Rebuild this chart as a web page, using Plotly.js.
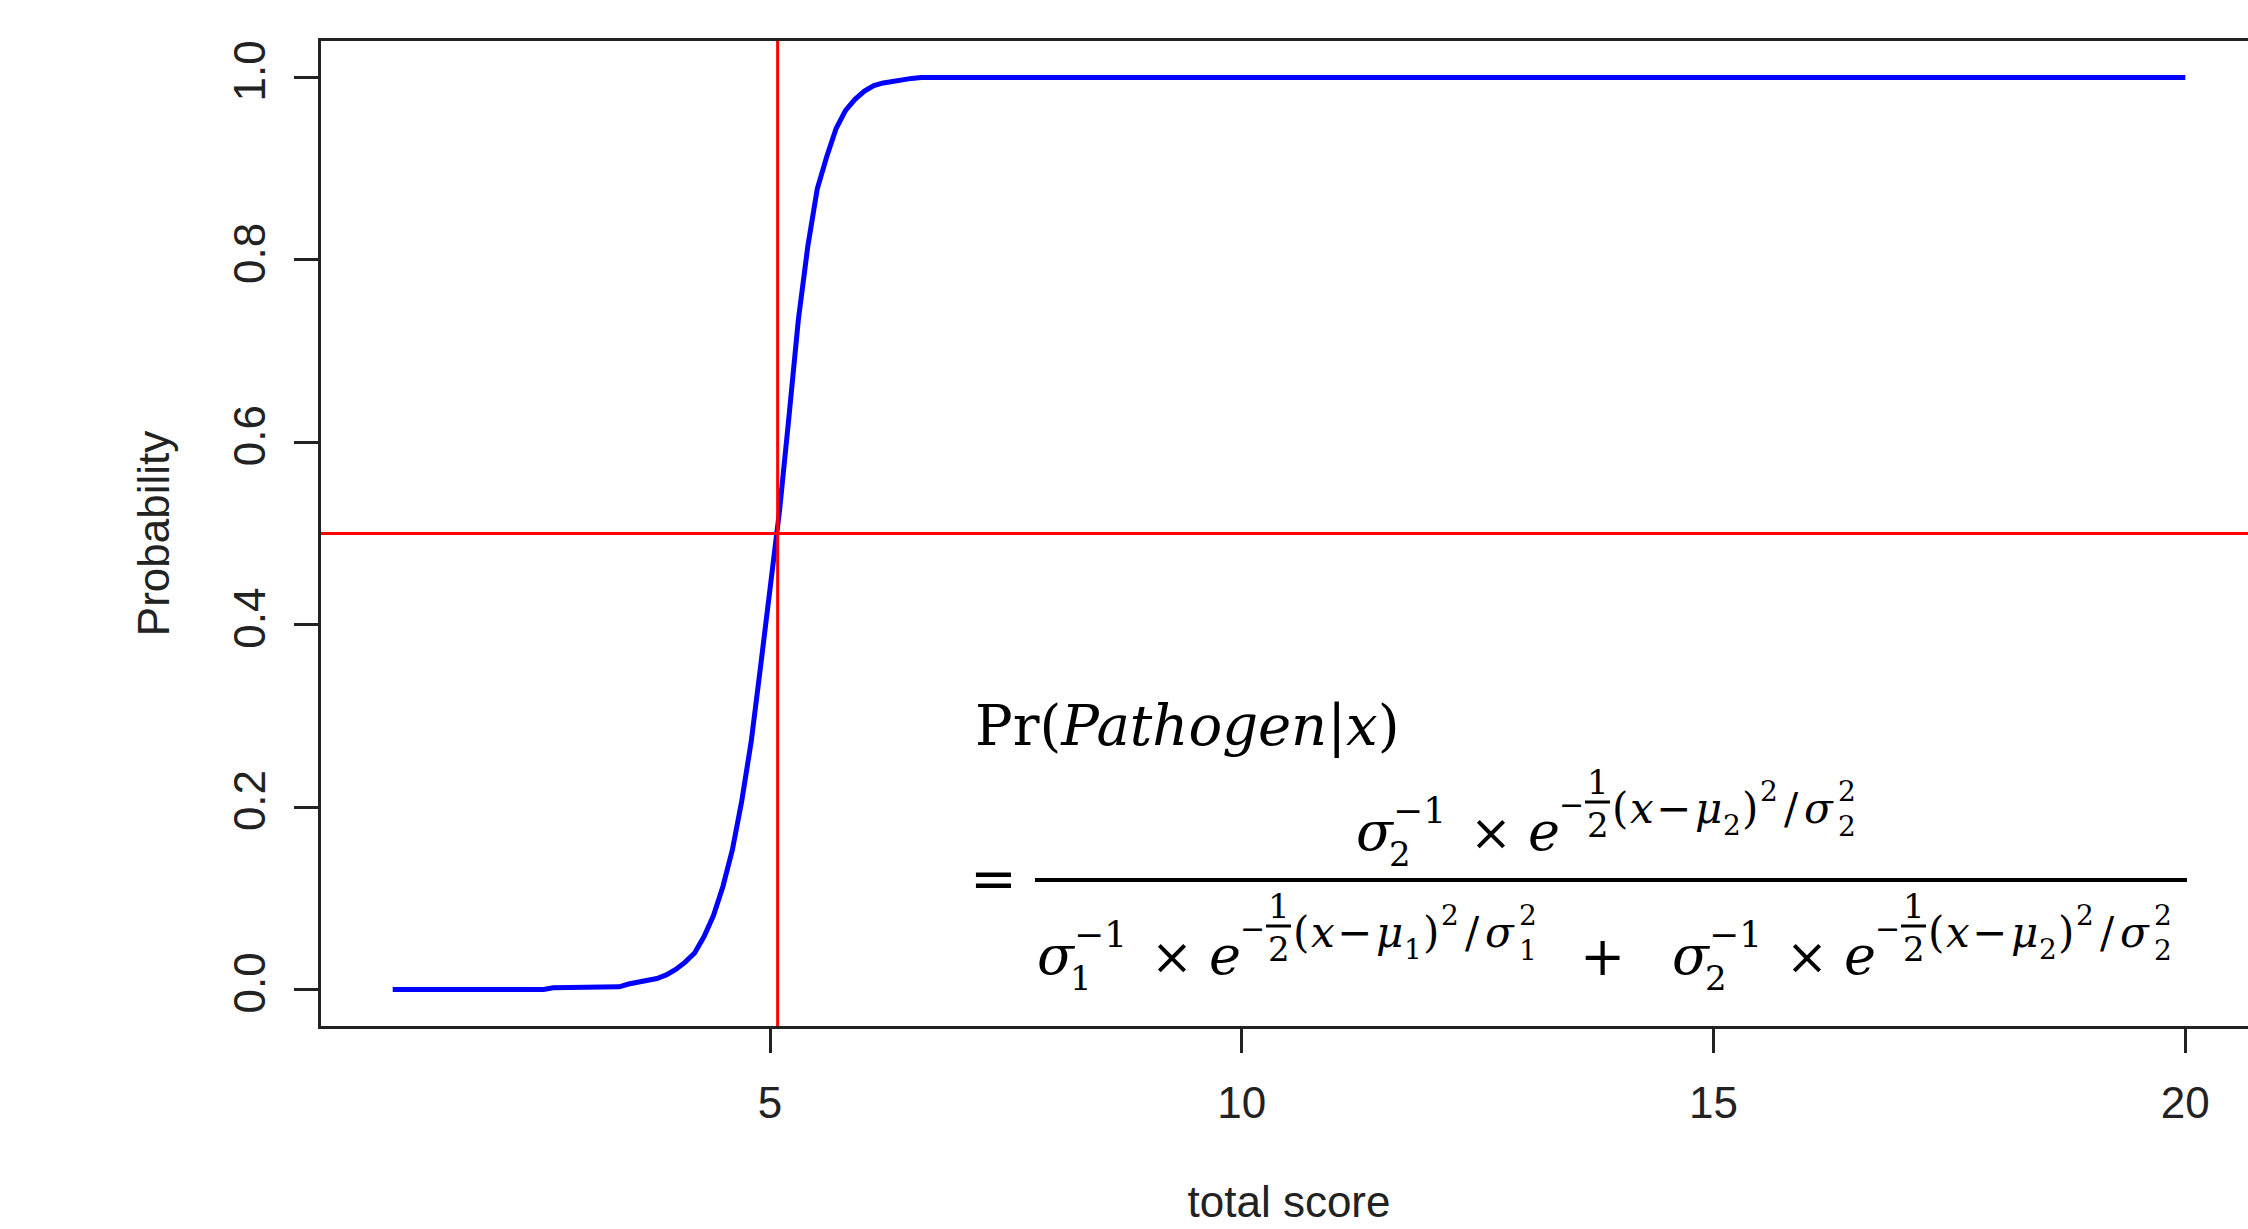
<!DOCTYPE html>
<html>
<head>
<meta charset="utf-8">
<script src="https://cdn.plot.ly/plotly-3.0.1.min.js"></script>
<style>
html,body{margin:0;padding:0;overflow:hidden;background:#fff;}
#chart{width:2258px;height:1229px;}
</style>
</head>
<body>
<div id="chart"></div>
<script>
// ---- data ----
const totalScore = [1, 2, 2.6, 2.7, 3.4, 3.5, 3.6, 3.7, 3.8, 3.9, 4.0, 4.1, 4.2, 4.3, 4.4, 4.5, 4.6, 4.7, 4.8, 4.9, 5.0, 5.1, 5.2, 5.3, 5.4, 5.5, 5.6, 5.7, 5.8, 5.9, 6.0, 6.1, 6.2, 6.3, 6.4, 6.5, 6.6, 10, 15, 20];
const probability = [0, 0, 0, 0.002, 0.003, 0.006, 0.008, 0.010, 0.012, 0.016, 0.022, 0.030, 0.040, 0.058, 0.081, 0.113, 0.153, 0.207, 0.272, 0.355, 0.440, 0.525, 0.628, 0.735, 0.815, 0.878, 0.913, 0.944, 0.964, 0.976, 0.985, 0.991, 0.994, 0.996, 0.998, 0.999, 1.0, 1.0, 1.0, 1.0];
const cutoffScore = 5.08;
const cutoffProb = 0.5;
const xTicks = [5, 10, 15, 20];
const yTicks = [0, 0.2, 0.4, 0.6, 0.8, 1.0];
const yTickText = ["0.0", "0.2", "0.4", "0.6", "0.8", "1.0"];
const xTitle = "total score";
const yTitle = "Probability";

// ---- layout geometry ----
const FIG_W = 2258, FIG_H = 1229;
const L = 321, T = 41, B = 203, R = 1;
const PW = FIG_W - L - R, PH = FIG_H - T - B;
const SANS = "'Liberation Sans Narrow', 'Liberation Sans', Arial, sans-serif";
const SERIF = "'DejaVu Serif', serif";
const INK = "#222222";
const LABEL_SIZE = 44;

function px2x(px){ return (px - L) / PW; }
function py2y(py){ return (T + PH - py) / PH; }

const annotations = [];
const shapes = [];
function piece(text, xpx, basepx, size, italic){
  annotations.push({
    text: italic ? '<i>' + text + '</i>' : text,
    xref: 'paper', yref: 'paper',
    x: px2x(xpx), y: py2y(basepx + 0.236 * size),
    xanchor: 'left', yanchor: 'bottom',
    showarrow: false, borderpad: 0, borderwidth: 0,
    font: {family: SERIF, size: size, color: '#000'}
  });
}
function bar(x0px, x1px, ypx, w){
  shapes.push({type: 'line', xref: 'paper', yref: 'paper',
    x0: px2x(x0px), x1: px2x(x1px), y0: py2y(ypx), y1: py2y(ypx),
    line: {color: '#000', width: w}});
}
// one term: sigma_k^{-1} x e^{-1/2 (x-mu_k)^2 / sigma_k^2}
function term(x0, b, k){
  piece('σ', x0, b, 54, true);
  piece(k, x0 + 33, b + 16, 34, false);
  piece('−1', x0 + 37, b - 27, 36, false);
  piece('×', x0 + 114, b, 50, false);
  piece('e', x0 + 172, b, 54, true);
  piece('−', x0 + 203, b - 35, 30, false);
  piece('1', x0 + 231, b - 56, 34, false);
  bar(x0 + 229, x0 + 254, b - 48, 3);
  piece('2', x0 + 231, b - 13, 34, false);
  piece('(', x0 + 256, b - 27, 42, false);
  piece('x', x0 + 274, b - 27, 42, true);
  piece('−', x0 + 300, b - 27, 42, false);
  piece('μ', x0 + 339, b - 27, 42, true);
  piece(k, x0 + 367, b - 15, 28, false);
  piece(')', x0 + 386, b - 27, 42, false);
  piece('2', x0 + 404, b - 49, 28, false);
  piece('/', x0 + 428, b - 27, 42, false);
  piece('σ', x0 + 448, b - 27, 42, true);
  piece('2', x0 + 482, b - 49, 28, false);
  piece(k, x0 + 482, b - 14, 28, false);
}
piece('Pr(<i>Pathogen</i>|<i>x</i>)', 975, 745, 56, false);
piece('=', 970, 898, 56, false);
bar(1035, 2187, 880, 4);
term(1356, 850, '2');
term(1037, 974, '1');
piece('+', 1580, 975, 54, false);
term(1672, 974, '2');

// reference lines
shapes.push({type: 'line', xref: 'x', yref: 'paper', x0: cutoffScore, x1: cutoffScore, y0: 0, y1: 1,
  line: {color: '#ff0000', width: 3}});
shapes.push({type: 'line', xref: 'paper', yref: 'y', x0: 0, x1: 1, y0: cutoffProb, y1: cutoffProb,
  line: {color: '#ff0000', width: 3}});

const trace = {
  x: totalScore, y: probability, type: 'scatter', mode: 'lines',
  line: {color: '#0000ff', width: 5}, hoverinfo: 'skip', showlegend: false
};

const axisCommon = {
  showgrid: false, zeroline: false, showline: true, mirror: true,
  linecolor: INK, linewidth: 3, ticks: 'outside', ticklen: 24, tickwidth: 3, tickcolor: INK,
  tickfont: {family: SANS, size: LABEL_SIZE, color: INK}
};

const layout = {
  width: FIG_W, height: FIG_H,
  margin: {l: L, r: R, t: T, b: B, pad: 0},
  paper_bgcolor: '#fff', plot_bgcolor: '#fff',
  showlegend: false,
  xaxis: Object.assign({}, axisCommon, {
    range: [0.24, 20.76], tickmode: 'array', tickvals: xTicks, ticktext: xTicks.map(String),
    ticklabelstandoff: 12,
    title: {text: xTitle, font: {family: SANS, size: LABEL_SIZE, color: INK}, standoff: 61}
  }),
  yaxis: Object.assign({}, axisCommon, {
    range: [-0.04, 1.04], tickmode: 'array', tickvals: yTicks, ticktext: yTickText,
    tickangle: -90, ticklabelstandoff: 11,
    title: {text: yTitle, font: {family: SANS, size: LABEL_SIZE, color: INK}, standoff: 43}
  }),
  shapes: shapes,
  annotations: annotations
};

Plotly.newPlot('chart', [trace], layout, {displayModeBar: false, staticPlot: true});
</script>
</body>
</html>
